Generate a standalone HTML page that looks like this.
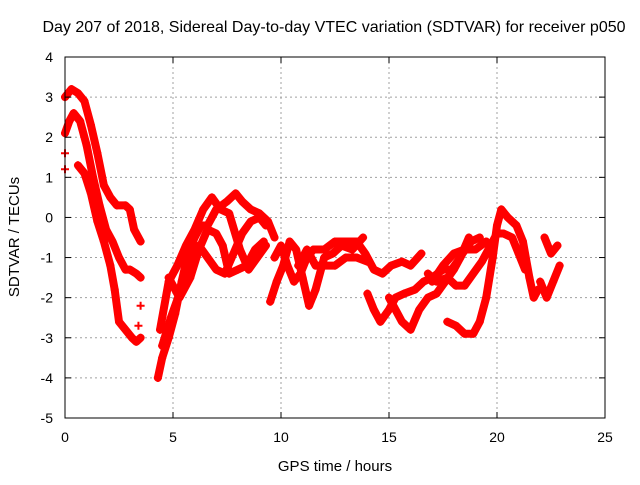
<!DOCTYPE html>
<html><head><meta charset="utf-8"><style>
body{margin:0;background:#fff}
svg text{font-family:"Liberation Sans",sans-serif;font-size:14px;fill:#000}
</style></head><body>
<svg id="chart" width="640" height="480" viewBox="0 0 640 480" xmlns="http://www.w3.org/2000/svg">
<rect width="640" height="480" fill="#fff"/>
<text x="334" y="32" text-anchor="middle" style="font-size:16px">Day 207 of 2018, Sidereal Day-to-day VTEC variation (SDTVAR) for receiver p050</text>
<g id="grid"></g>
<g id="series"></g>
<rect x="65" y="57" width="540" height="361" fill="none" stroke="#000" stroke-width="1"/>
<g id="ticks"></g>
<text x="335" y="471" text-anchor="middle" style="font-size:15px">GPS time / hours</text>
<text transform="translate(19,237) rotate(-90)" text-anchor="middle" style="font-size:15px">SDTVAR / TECUs</text>
</svg>
<script>
const xTicks=[0,5,10,15,20,25];
const yTicks=[4,3,2,1,0,-1,-2,-3,-4,-5];
const trackA=[[0,3.0],[0.3,3.2],[0.6,3.1],[0.9,2.9],[1.2,2.3],[1.5,1.6],[1.8,0.8],[2.1,0.5],[2.4,0.3],[2.8,0.3],[3.0,0.2],[3.2,-0.3],[3.5,-0.6]];
const trackB=[[0,2.1],[0.2,2.4],[0.4,2.6],[0.7,2.4],[1.0,1.8],[1.3,1.0],[1.6,0.3],[1.9,-0.3],[2.2,-0.6],[2.5,-1.0],[2.8,-1.3],[3.0,-1.3],[3.3,-1.4],[3.5,-1.5]];
const trackC=[[0.6,1.3],[0.9,1.1],[1.2,0.6],[1.5,-0.1],[1.8,-0.6],[2.1,-1.2],[2.3,-1.8],[2.5,-2.6],[2.8,-2.8],[3.1,-3.0],[3.3,-3.1],[3.5,-3.0]];
const trackD=[[4.3,-4.0],[4.5,-3.5],[4.8,-3.0],[5.1,-2.4],[5.4,-1.6],[5.7,-0.9],[6.0,-0.5],[6.3,-0.2],[6.6,-0.2],[7.0,0.2],[7.5,0.4],[7.9,0.6],[8.2,0.4],[8.6,0.2],[9.0,0.1],[9.4,-0.1],[9.7,-0.5]];
const trackE=[[4.4,-2.8],[4.8,-1.6],[5.2,-1.2],[5.6,-0.7],[6.0,-0.3],[6.4,0.2],[6.8,0.5],[7.2,0.2],[7.6,0.1],[8.1,-0.8],[8.5,-1.3],[8.9,-1.0],[9.3,-0.7]];
const trackF=[[4.5,-3.2],[4.9,-2.5],[5.3,-1.9],[5.7,-1.2],[6.2,-0.7],[6.6,-1.0],[7.0,-1.3],[7.4,-1.4],[7.8,-0.9],[8.2,-0.4],[8.6,-0.1],[9.0,0.0],[9.3,-0.2]];
const trackG=[[4.8,-1.5],[5.3,-2.0],[5.8,-1.5],[6.2,-0.8],[6.6,-0.3],[7.0,-0.4],[7.3,-0.7],[7.6,-1.4],[8.0,-1.3],[8.4,-1.2],[8.8,-0.8],[9.2,-0.6]];
const trackH=[[9.7,-1.0],[10.0,-0.7],[10.3,-1.2],[10.6,-1.6],[10.9,-1.4],[11.2,-1.0],[11.5,-0.8],[12.0,-0.8],[12.5,-0.6],[13.0,-0.6],[13.5,-0.6],[13.9,-0.9],[14.3,-1.3],[14.7,-1.4],[15.1,-1.2],[15.6,-1.1],[16.0,-1.2],[16.5,-0.9]];
const trackI=[[9.5,-2.1],[9.8,-1.6],[10.1,-1.2],[10.4,-0.6],[10.7,-0.8],[11.0,-1.5],[11.3,-2.2],[11.6,-1.8],[12.0,-1.0],[12.4,-0.9],[12.8,-0.7],[13.3,-0.8],[13.8,-0.5]];
const trackJ=[[10.8,-1.2],[11.2,-0.8],[11.6,-1.2],[12.0,-1.2],[12.5,-1.2],[13.0,-1.0],[13.5,-1.0],[14.0,-1.1]];
const trackK=[[14.0,-1.9],[14.3,-2.3],[14.6,-2.6],[15.0,-2.3],[15.3,-2.0],[15.7,-1.9],[16.2,-1.8],[16.6,-1.6],[17.0,-1.5],[17.5,-1.3],[17.9,-1.3],[18.3,-1.0],[18.7,-0.5]];
const trackL=[[15.0,-2.0],[15.3,-2.3],[15.6,-2.6],[16.0,-2.8],[16.4,-2.3],[16.8,-2.0],[17.2,-1.9],[17.6,-1.6],[18.0,-1.3],[18.4,-0.9],[18.8,-0.6],[19.2,-0.5]];
const trackM=[[16.8,-1.4],[17.2,-1.6],[17.7,-1.5],[18.1,-1.7],[18.5,-1.7],[18.9,-1.4],[19.3,-1.1],[19.7,-0.7],[20.0,-0.4],[20.3,-0.4],[20.7,-0.5],[21.0,-0.9],[21.3,-1.3]];
const trackN=[[17.7,-2.6],[18.1,-2.7],[18.5,-2.9],[18.9,-2.9],[19.2,-2.6],[19.5,-2.0],[19.8,-1.0],[20.0,-0.2],[20.2,0.2],[20.5,0.0],[20.9,-0.2],[21.2,-0.6],[21.5,-1.5],[21.7,-2.0],[21.9,-1.8]];
const trackO=[[22.0,-1.6],[22.3,-2.0],[22.6,-1.6],[22.9,-1.2]];
const trackP=[[22.2,-0.5],[22.5,-0.9],[22.8,-0.7]];
const trackQ=[[17.0,-1.6],[17.5,-1.2],[18.0,-0.9],[18.5,-0.8],[19.0,-0.8],[19.5,-0.6]];
const strayPoints=[[0,1.6],[0,1.2],[3.5,-2.2],[3.4,-2.7]];
const tracks=[trackA,trackB,trackC,trackD,trackE,trackF,trackG,trackH,trackI,trackJ,trackK,trackL,trackM,trackN,trackO,trackP,trackQ];

const NS="http://www.w3.org/2000/svg";
const X=h=>65+h*21.6;
const Y=v=>57+(4-v)*40.111;
function mk(tag,attrs,parent){const e=document.createElementNS(NS,tag);for(const k in attrs)e.setAttribute(k,attrs[k]);parent.appendChild(e);return e;}
const grid=document.getElementById('grid'),ticks=document.getElementById('ticks'),ser=document.getElementById('series');
xTicks.forEach(t=>{
  const x=X(t);
  if(t>0&&t<25){const g=mk('line',{x1:x,x2:x,y1:57,y2:418,stroke:'#a0a0a0','stroke-dasharray':'2,3'},grid);
  
  }
  mk('line',{x1:x,x2:x,y1:418,y2:412,stroke:'#000'},ticks);
  mk('line',{x1:x,x2:x,y1:57,y2:63,stroke:'#000'},ticks);
  const l=mk('text',{x:x,y:442,'text-anchor':'middle'},ticks);l.textContent=t;
  
  
});
yTicks.forEach(t=>{
  const y=Y(t);
  if(t<4&&t>-5){const g=mk('line',{x1:65,x2:605,y1:y,y2:y,stroke:'#a0a0a0','stroke-dasharray':'2,3'},grid);
  
  }
  mk('line',{x1:65,x2:71,y1:y,y2:y,stroke:'#000'},ticks);
  mk('line',{x1:605,x2:599,y1:y,y2:y,stroke:'#000'},ticks);
  const l=mk('text',{x:53,y:y+5,'text-anchor':'end'},ticks);l.textContent=t;
  
  
});
function plus(h,v){
  const x=X(h),y=Y(v);
  const p=mk('path',{d:`M${x-4} ${y}H${x+4}M${x} ${y-4}V${y+4}`,stroke:'#f00','stroke-width':2},ser);
  
  
}
tracks.forEach((tr,i)=>{
  const pl=mk('polyline',{points:tr.map(p=>X(p[0])+','+Y(p[1])).join(' '),fill:'none',stroke:'#f00','stroke-width':8,'stroke-linejoin':'round','stroke-linecap':'round'},ser);
  
  
  tr.forEach(p=>plus(p[0],p[1]));
});
strayPoints.forEach(p=>plus(p[0],p[1]));
</script>
</body></html>
